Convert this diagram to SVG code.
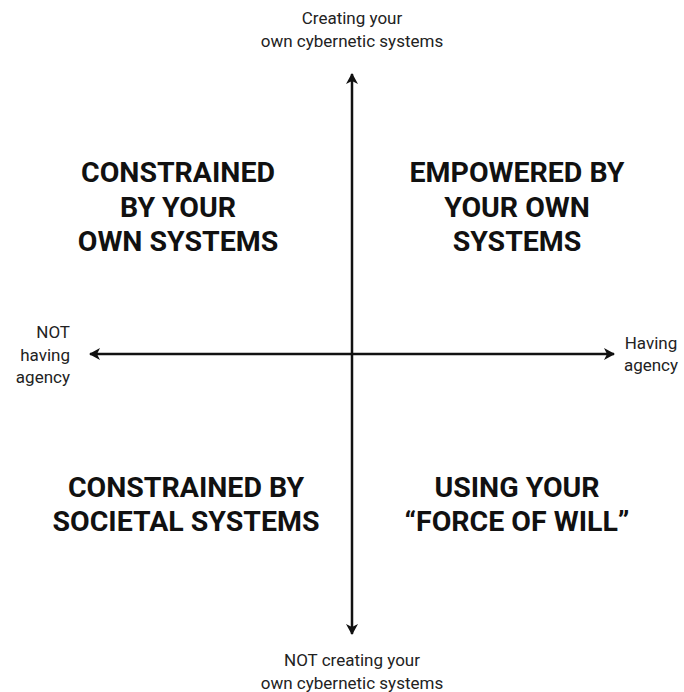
<svg xmlns="http://www.w3.org/2000/svg" width="684" height="692" viewBox="0 0 684 692">
<style>
.big{font-family:Roboto,"Liberation Sans",Arial,sans-serif;font-weight:700;font-size:28.5px;fill:#111;text-anchor:middle}
.sm{font-family:Roboto,"Liberation Sans",Arial,sans-serif;font-weight:400;font-size:17px;fill:#222}
.axis{stroke:#111;stroke-width:2.5;fill:none}
</style>
<defs>
<marker id="ah" viewBox="0 0 12 12" refX="10" refY="6" markerWidth="12" markerHeight="12" markerUnits="userSpaceOnUse" orient="auto-start-reverse">
<path d="M0,0 L11,6 L0,12 L3,6 Z" fill="#111"/>
</marker>
</defs>
<rect width="684" height="692" fill="#fff"/>
<g id="connectors">
<line class="axis" x1="352" y1="634" x2="352" y2="74" marker-start="url(#ah)" marker-end="url(#ah)"/>
<line class="axis" x1="90" y1="354" x2="614" y2="354" marker-start="url(#ah)" marker-end="url(#ah)"/>
</g>
<g id="axis-top">
<text class="sm" x="352" y="24" text-anchor="middle">Creating your</text>
<text class="sm" x="352" y="47" text-anchor="middle">own cybernetic systems</text>
</g>
<g id="axis-bottom">
<text class="sm" x="352" y="666" text-anchor="middle">NOT creating your</text>
<text class="sm" x="352" y="689" text-anchor="middle">own cybernetic systems</text>
</g>
<g id="axis-left">
<text class="sm" x="70" y="338" text-anchor="end">NOT</text>
<text class="sm" x="70" y="361" text-anchor="end">having</text>
<text class="sm" x="70" y="383" text-anchor="end">agency</text>
</g>
<g id="axis-right">
<text class="sm" x="651" y="349" text-anchor="middle">Having</text>
<text class="sm" x="651" y="371" text-anchor="middle">agency</text>
</g>
<g id="q-top-left">
<text class="big" x="178" y="182">CONSTRAINED</text>
<text class="big" x="178" y="217">BY YOUR</text>
<text class="big" x="178" y="251">OWN SYSTEMS</text>
</g>
<g id="q-top-right">
<text class="big" x="517" y="182">EMPOWERED BY</text>
<text class="big" x="517" y="217">YOUR OWN</text>
<text class="big" x="517" y="251">SYSTEMS</text>
</g>
<g id="q-bottom-left">
<text class="big" x="186" y="497">CONSTRAINED BY</text>
<text class="big" x="186" y="531">SOCIETAL SYSTEMS</text>
</g>
<g id="q-bottom-right">
<text class="big" x="517" y="497">USING YOUR</text>
<text class="big" x="517" y="531">“FORCE OF WILL”</text>
</g>
</svg>
